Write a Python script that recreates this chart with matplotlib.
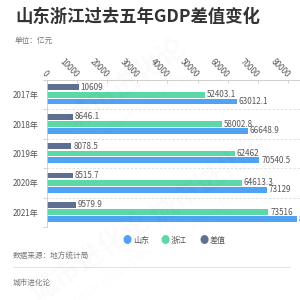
import numpy as np
import matplotlib.pyplot as plt

plt.rcParams['font.family'] = ['Noto Sans CJK SC', 'DejaVu Sans']

# data (亿元)
years = ['2017年', '2018年', '2019年', '2020年', '2021年']
shandong = [63012.1, 66648.9, 70540.5, 73129.0, 83095.9]
zhejiang = [52403.1, 58002.8, 62462, 64613.3, 73516]
diff = [10609, 8646.1, 8078.5, 8515.7, 9579.9]
shandong_lbl = ['63012.1', '66648.9', '70540.5', '73129', '83095.9']
zhejiang_lbl = ['52403.1', '58002.8', '62462', '64613.3', '73516']
diff_lbl = ['10609', '8646.1', '8078.5', '8515.7', '9579.9']
xticks = [0, 10000, 20000, 30000, 40000, 50000, 60000, 70000, 80000]

c_sd = '#4fa3f2'
c_zj = '#5ad8a6'
c_df = '#5d7092'
txt = '#555555'

fig = plt.figure(figsize=(3, 3), dpi=100)
fig.patch.set_facecolor('white')

# faint watermark
for (wx, wy) in [(0.42, 0.72), (0.70, 0.40), (0.30, 0.14)]:
    fig.text(wx, wy, '城市进化论', fontsize=20, color='#000000', alpha=0.02,
             rotation=35, ha='center', va='center', fontweight='bold')
    fig.text(wx + 0.07, wy - 0.07, 'URBAN EVOLUTION', fontsize=8, color='#000000',
             alpha=0.02, rotation=35, ha='center', va='center')

fig.text(15/300, 1 - 17/300, '山东浙江过去五年GDP差值变化', fontsize=12.5,
         fontweight='bold', color='#333333', va='center', ha='left')
fig.text(15/300, 1 - 41/300, '单位：亿元', fontsize=5.5, color='#777777',
         va='center', ha='left')

ax = fig.add_axes([47/300, 1 - 227/300, 271/300, 147/300])
y = np.arange(len(years))
h = 0.2
ax.barh(y - 0.25, diff, height=h, color=c_df)
ax.barh(y, zhejiang, height=h, color=c_zj)
ax.barh(y + 0.23, shandong, height=h, color=c_sd)

for i in range(len(years)):
    ax.text(diff[i] + 600, y[i] - 0.25, diff_lbl[i], fontsize=5.8, color=txt, va='center')
    ax.text(zhejiang[i] + 600, y[i], zhejiang_lbl[i], fontsize=5.8, color=txt, va='center')
    ax.text(shandong[i] + 600, y[i] + 0.23, shandong_lbl[i], fontsize=5.8, color=txt, va='center')

ax.set_xlim(0, 90000)
ax.set_ylim(4.5, -0.5)
ax.set_yticks(y)
ax.set_yticklabels(years, fontsize=5.8, color=txt)
ax.tick_params(axis='y', length=0, pad=6)
ax.set_yticks(np.arange(-0.5, 5, 1), minor=True)
ax.tick_params(axis='y', which='minor', length=3, color='#cccccc', width=0.6)
ax.grid(axis='y', which='minor', color='#dddddd', linestyle=(0, (3, 2)), linewidth=0.6)

ax.xaxis.tick_top()
ax.set_xticks(xticks)
ax.set_xticklabels([str(t) for t in xticks], fontsize=5.8, color=txt,
                   rotation=-45, ha='right', va='center', rotation_mode='anchor')
ax.tick_params(axis='x', length=2, color='#cccccc', width=0.6, pad=3, direction='in')

for s in ['right', 'bottom']:
    ax.spines[s].set_visible(False)
for s in ['top', 'left']:
    ax.spines[s].set_color('#cccccc')
    ax.spines[s].set_linewidth(0.6)

# legend
leg_items = [(127, '山东', c_sd), (165, '浙江', c_zj), (204, '差值', c_df)]
for lx, name, col in leg_items:
    fig.text(lx/300, 1 - 240/300, '●', fontsize=6.5, color=col, ha='center', va='center')
    fig.text((lx + 6)/300, 1 - 240/300, name, fontsize=5.8, color=txt, ha='left', va='center')

fig.text(13/300, 1 - 257/300, '数据来源：地方统计局', fontsize=5.5, color='#777777',
         ha='left', va='center')
fig.add_artist(plt.Line2D([13/300, 290/300], [1 - 267/300, 1 - 267/300],
                          color='#dddddd', linewidth=0.6))
fig.text(13/300, 1 - 283/300, '城市进化论', fontsize=5.5, color='#777777',
         ha='left', va='center')

fig.savefig('out.png', dpi=100, facecolor='white')
